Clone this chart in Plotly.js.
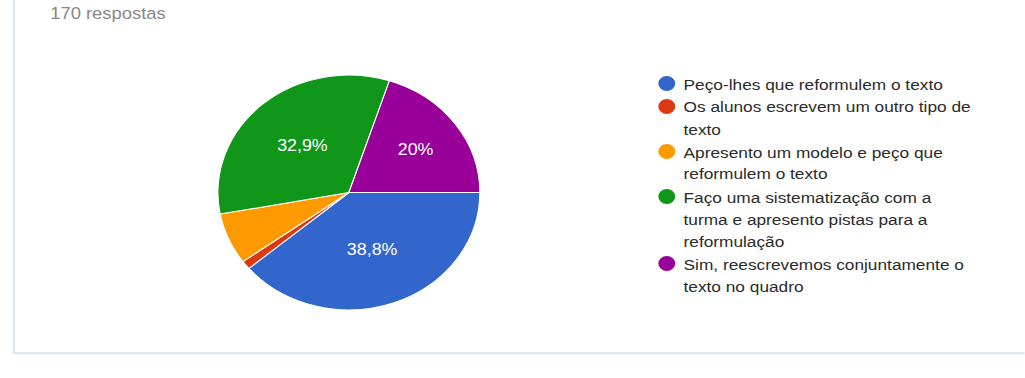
<!DOCTYPE html>
<html>
<head>
<meta charset="utf-8">
<script src="https://cdn.plot.ly/plotly-3.0.1.min.js"></script>
<style>
  html, body { margin: 0; padding: 0; background: #ffffff; overflow: hidden; }
  #wrap { position: absolute; left: 0; top: 0; height: 378px; transform-origin: 0 0; }
</style>
</head>
<body>
<div id="wrap"><div id="chart"></div></div>
<script>
// ---- data ----
const responsesLabel = '170 respostas';
const labels = [
  'Peço-lhes que reformulem o texto',
  'Os alunos escrevem um outro tipo de<br>texto',
  'Apresento um modelo e peço que<br>reformulem o texto',
  'Faço uma sistematização com a<br>turma e apresento pistas para a<br>reformulação',
  'Sim, reescrevemos conjuntamente o<br>texto no quadro'
];
const counts = [66, 2, 12, 56, 34];
const colors = ['#3366CC', '#DC3912', '#FF9900', '#109618', '#990099'];
const showPct = [true, false, false, true, true];

// ---- layout helpers (the reference image is stretched horizontally) ----
const S = 1.115;
const W = 1025 / S;
const H = 378;
document.getElementById('wrap').style.width = W + 'px';
document.getElementById('wrap').style.transform = 'scaleX(' + S + ')';

const px = x => x / W;          // unscaled px -> paper x
const py = y => 1 - y / H;      // px from top -> paper y

const cx = 349 / S, cy = 192.5, R = 117.5;

const shapes = [{
  type: 'rect', xref: 'paper', yref: 'paper',
  x0: px(13.8 / S), x1: 1.05, y0: py(353.3), y1: 1.05,
  line: { color: '#d6e9fb', width: 2 }, fillcolor: 'rgba(0,0,0,0)', layer: 'below'
}];
const annotations = [{
  xref: 'paper', yref: 'paper', x: px(48.5 / S), y: py(13.5),
  xanchor: 'left', yanchor: 'middle', showarrow: false,
  text: responsesLabel, font: { family: 'Liberation Sans, Arial, sans-serif', size: 16.5, color: '#888888' }
}];

// custom legend with round markers
const textX = 682 / S, dotX = 667 / S, dotR = 7.6;
const lineH = 22, entryGap = 1;
let y = 84;
labels.forEach((lab, i) => {
  const lines = lab.split('<br>');
  shapes.push({
    type: 'circle', xref: 'paper', yref: 'paper',
    x0: px(dotX - dotR), x1: px(dotX + dotR),
    y0: py(y + dotR - 0.5), y1: py(y - dotR - 0.5),
    fillcolor: colors[i], line: { width: 0 }
  });
  lines.forEach((ln, j) => {
    annotations.push({
      xref: 'paper', yref: 'paper', x: px(textX), y: py(y + j * lineH),
      xanchor: 'left', yanchor: 'middle', showarrow: false,
      text: ln, font: { family: 'Liberation Sans, Arial, sans-serif', size: 15.5, color: '#2b2b2b' }
    });
  });
  y += lines.length * lineH + entryGap;
});

const trace = {
  type: 'pie',
  labels: labels,
  values: counts,
  sort: false,
  direction: 'clockwise',
  rotation: 90,
  marker: { colors: colors, line: { color: '#ffffff', width: 1 } },
  textinfo: 'percent',
  textposition: showPct.map(s => s ? 'inside' : 'none'),
  insidetextorientation: 'horizontal',
  textfont: { family: 'Liberation Sans, Arial, sans-serif', size: 16, color: '#ffffff' },
  hoverinfo: 'label+percent',
  showlegend: false,
  domain: { x: [px(cx - R), px(cx + R)], y: [py(cy + R), py(cy - R)] }
};

const layout = {
  width: W, height: H,
  margin: { l: 0, r: 0, t: 0, b: 0 },
  paper_bgcolor: '#ffffff',
  separators: ',.',
  showlegend: false,
  shapes: shapes,
  annotations: annotations
};

Plotly.newPlot('chart', [trace], layout, { displayModeBar: false, staticPlot: true });
</script>
</body>
</html>
